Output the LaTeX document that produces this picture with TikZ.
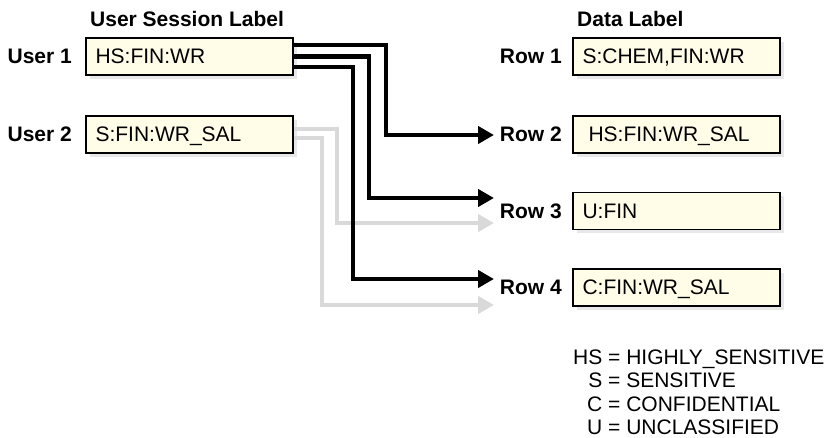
\documentclass[tikz,border=0pt]{standalone}
\usepackage{fontspec}
\setmainfont{Liberation Sans}
\usetikzlibrary{arrows.meta,shadows}
\definecolor{cream}{RGB}{255,253,232}
\definecolor{lgray}{RGB}{217,217,217}
\definecolor{shad}{RGB}{232,232,232}
\begin{document}
\begin{tikzpicture}[x=1pt,y=-1pt,
  lbl/.style={font=\fontsize{21}{24}\selectfont\bfseries, inner sep=0pt},
  box/.style={draw=black, line width=1.6pt, fill=cream, text width=188pt, inner xsep=9.5pt, inner ysep=0pt,
    minimum height=37pt, text height=15pt, text depth=0pt, align=left, font=\fontsize{21}{24}\selectfont,
    drop shadow={shadow xshift=4pt, shadow yshift=-4pt, fill=shad, opacity=1, draw=none}},
  blk/.style={line width=4.5pt, draw=black, -{Triangle[length=16pt,width=17pt]}},
  gry/.style={line width=4.5pt, draw=lgray, -{Triangle[length=16pt,width=17pt]}},
  legend/.style={font=\fontsize{21}{23.5}\selectfont, inner sep=0pt}
]
\useasboundingbox (0,0) rectangle (830,438);

% headers
\node[lbl, anchor=base west] (h1) at (90,27) {User Session Label};
\node[lbl, anchor=base west] (h2) at (577,27) {Data Label};

% boxes
\node[box] (u1) at (189.5,56.5) {HS:FIN:WR};
\node[box] (u2) at (189.5,134.5) {S:FIN:WR\_SAL};
\node[box] (r1) at (676.5,56.5) {S:CHEM,FIN:WR};
\node[box] (r2) at (676.5,134.5) {\hspace*{6pt}HS:FIN:WR\_SAL};
\node[box] (r3) at (676.5,211) {U:FIN};
\node[box] (r4) at (676.5,287.5) {C:FIN:WR\_SAL};

% side labels
\node[lbl, anchor=base east] (lu1) at (72,64) {User 1};
\node[lbl, anchor=base east] (lu2) at (72,142) {User 2};
\node[lbl, anchor=base east] (lr1) at (562,64) {Row 1};
\node[lbl, anchor=base east] (lr2) at (562,142) {Row 2};
\node[lbl, anchor=base east] (lr3) at (562,218.5) {Row 3};
\node[lbl, anchor=base east] (lr4) at (562,295) {Row 4};

% arrow tips
\coordinate (a2) at (494,135);
\coordinate (a3) at (494,198);
\coordinate (a3g) at (494,223);
\coordinate (a4) at (494,279);
\coordinate (a4g) at (494,305);

% gray connectors (User 2)
\draw[gry] ([yshift=5.5pt]u2.east) -| (337,223) -- (a3g);
\draw[gry] ([yshift=-3.5pt]u2.east) -| (322,305) -- (a4g);

% black connectors (User 1)
\draw[blk] ([yshift=11.5pt]u1.east) -| (386,135) -- (a2);
\draw[blk] (u1.east) -| (369,198) -- (a3);
\draw[blk] ([yshift=-10.5pt]u1.east) -| (353,279) -- (a4);

% legend
\node[legend, anchor=base west] (leg) at (573,364) {\begin{tabular}[t]{@{}r@{\ =\ }l@{}}HS & HIGHLY\_SENSITIVE\\ S & SENSITIVE\\ C & CONFIDENTIAL\\ U & UNCLASSIFIED\end{tabular}};
\end{tikzpicture}
\end{document}
